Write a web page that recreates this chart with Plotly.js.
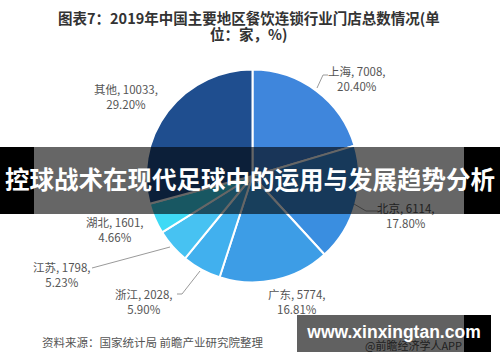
<!DOCTYPE html>
<html>
<head>
<meta charset="utf-8">
<script src="https://cdn.plot.ly/plotly-3.0.1.min.js"></script>
<style>
html,body{margin:0;padding:0;background:#fff;}
#wrap{position:relative;width:500px;height:362px;overflow:hidden;}
#chart{width:500px;height:362px;}
.ov{position:absolute;}
#banner{left:0;top:147px;width:500px;height:67px;}
#banner .l{position:absolute;left:0;top:0;width:34px;height:67px;background:#000;}
#banner .m{position:absolute;left:34px;top:0;width:430px;height:67px;background:rgba(0,0,0,0.6);}
#banner .r{position:absolute;left:464px;top:0;width:36px;height:67px;background:#000;}
#banner .t{position:absolute;left:0;top:0;width:500px;height:67px;line-height:67px;text-align:center;color:#fff;font-family:"Noto Sans CJK SC",sans-serif;font-weight:bold;font-size:24.5px;white-space:nowrap;margin-top:-2px;}
#wm{left:297px;top:315px;width:194px;height:37px;}
#wm .m{position:absolute;left:0;top:0;width:167px;height:37px;background:rgba(0,0,0,0.62);}
#wm .r{position:absolute;left:167px;top:0;width:27px;height:37px;background:#000;}
#wm .t{position:absolute;left:0;top:0;width:194px;height:37px;line-height:37px;text-align:center;color:#fff;font-family:"Liberation Sans",Arial,sans-serif;font-weight:bold;font-size:17.5px;white-space:nowrap;margin-top:-1px;}
</style>
</head>
<body>
<div id="wrap">
<div id="chart"></div>
<div id="banner" class="ov"><div class="l"></div><div class="m"></div><div class="r"></div><div class="t" id="bannerT"></div></div>
<div id="wm" class="ov"><div class="m"></div><div class="r"></div><div class="t" id="wmT"></div></div>
</div>
<script>
// ---- data ----
const regions = ["上海", "北京", "广东", "浙江", "江苏", "湖北", "其他"];
const storeCounts = [7008, 6114, 5774, 2028, 1798, 1601, 10033];
const shareLabels = ["20.40%", "17.80%", "16.81%", "5.90%", "5.23%", "4.66%", "29.20%"];
const sliceColors = ["#3f86dc", "#3a8ee0", "#3d9de6", "#41b0ee", "#47c2f2", "#3edaf5", "#1f4e8f"];
const titleLines = ["图表7：2019年中国主要地区餐饮连锁行业门店总数情况(单", "位：家，%)"];
const sourceText = "资料来源：国家统计局 前瞻产业研究院整理";
const bannerText = "控球战术在现代足球中的运用与发展趋势分析";
const watermarkText = "www.xinxingtan.com";
const watermarkSub = "@前瞻经济学人APP";

document.getElementById("bannerT").textContent = bannerText;
document.getElementById("wmT").textContent = watermarkText;

// ---- layout helpers (pixel -> paper) ----
const W = 500, H = 362;
const px = x => x / W;
const py = y => 1 - y / H;

// label placement (centre of two-line block), per region
const labelPos = [[357, 79], [406, 215.5], [297, 301], [144, 301], [62, 274], [115, 229], [126, 96]];
const leaders = [
  [[317, 88], [323, 75], [328, 75]],
  [[354, 204], [366, 211], [378, 211]],
  [[200, 271], [182, 294], [177, 294]],
  [[170, 247], [92, 268]]
];

const cx = 252.5, cy = 176, r = 106.5;

const trace = {
  type: "pie",
  labels: regions,
  values: storeCounts,
  sort: false,
  direction: "clockwise",
  rotation: 0,
  textinfo: "none",
  hoverinfo: "none",
  showlegend: false,
  marker: { colors: sliceColors, line: { color: "#ffffff", width: 2 } },
  domain: { x: [px(cx - r), px(cx + r)], y: [py(cy + r), py(cy - r)] }
};

const lblFont = { family: "Noto Sans CJK SC, sans-serif", size: 11.5, color: "#555555" };
const annotations = [];
regions.forEach((name, i) => {
  annotations.push({
    xref: "paper", yref: "paper",
    x: px(labelPos[i][0]), y: py(labelPos[i][1]),
    xanchor: "center", yanchor: "middle", align: "center",
    showarrow: false,
    text: name + ", " + storeCounts[i] + ",<br>" + shareLabels[i],
    font: lblFont
  });
});
const titleFont = { family: "Noto Sans CJK SC, sans-serif", size: 14.5, color: "#333333" };
annotations.push({ xref: "paper", yref: "paper", x: px(248.5), y: py(17.5), xanchor: "center", yanchor: "middle", showarrow: false, text: "<b>" + titleLines[0] + "</b>", font: titleFont });
annotations.push({ xref: "paper", yref: "paper", x: px(248.5), y: py(33.5), xanchor: "center", yanchor: "middle", showarrow: false, text: "<b>" + titleLines[1] + "</b>", font: titleFont });
annotations.push({ xref: "paper", yref: "paper", x: px(40), y: py(342), xanchor: "left", yanchor: "middle", showarrow: false, text: sourceText, font: { family: "Noto Sans CJK SC, sans-serif", size: 11.5, color: "#555555" } });
annotations.push({ xref: "paper", yref: "paper", x: px(413), y: py(345), xanchor: "center", yanchor: "middle", showarrow: false, text: watermarkSub, font: { family: "Noto Sans CJK SC, sans-serif", size: 11, color: "#555555" } });

const shapes = [];
leaders.forEach(pts => {
  const d = pts.map((p, k) => (k ? "L" : "M") + px(p[0]) + "," + py(p[1])).join(" ");
  shapes.push({ type: "path", xref: "paper", yref: "paper", path: d, line: { color: "#9a9a9a", width: 1 }, layer: "above" });
});

const layout = {
  width: W, height: H,
  margin: { l: 0, r: 0, t: 0, b: 0 },
  paper_bgcolor: "#ffffff",
  plot_bgcolor: "#ffffff",
  showlegend: false,
  annotations: annotations,
  shapes: shapes
};

Plotly.newPlot("chart", [trace], layout, { staticPlot: true, displayModeBar: false });
</script>
</body>
</html>
